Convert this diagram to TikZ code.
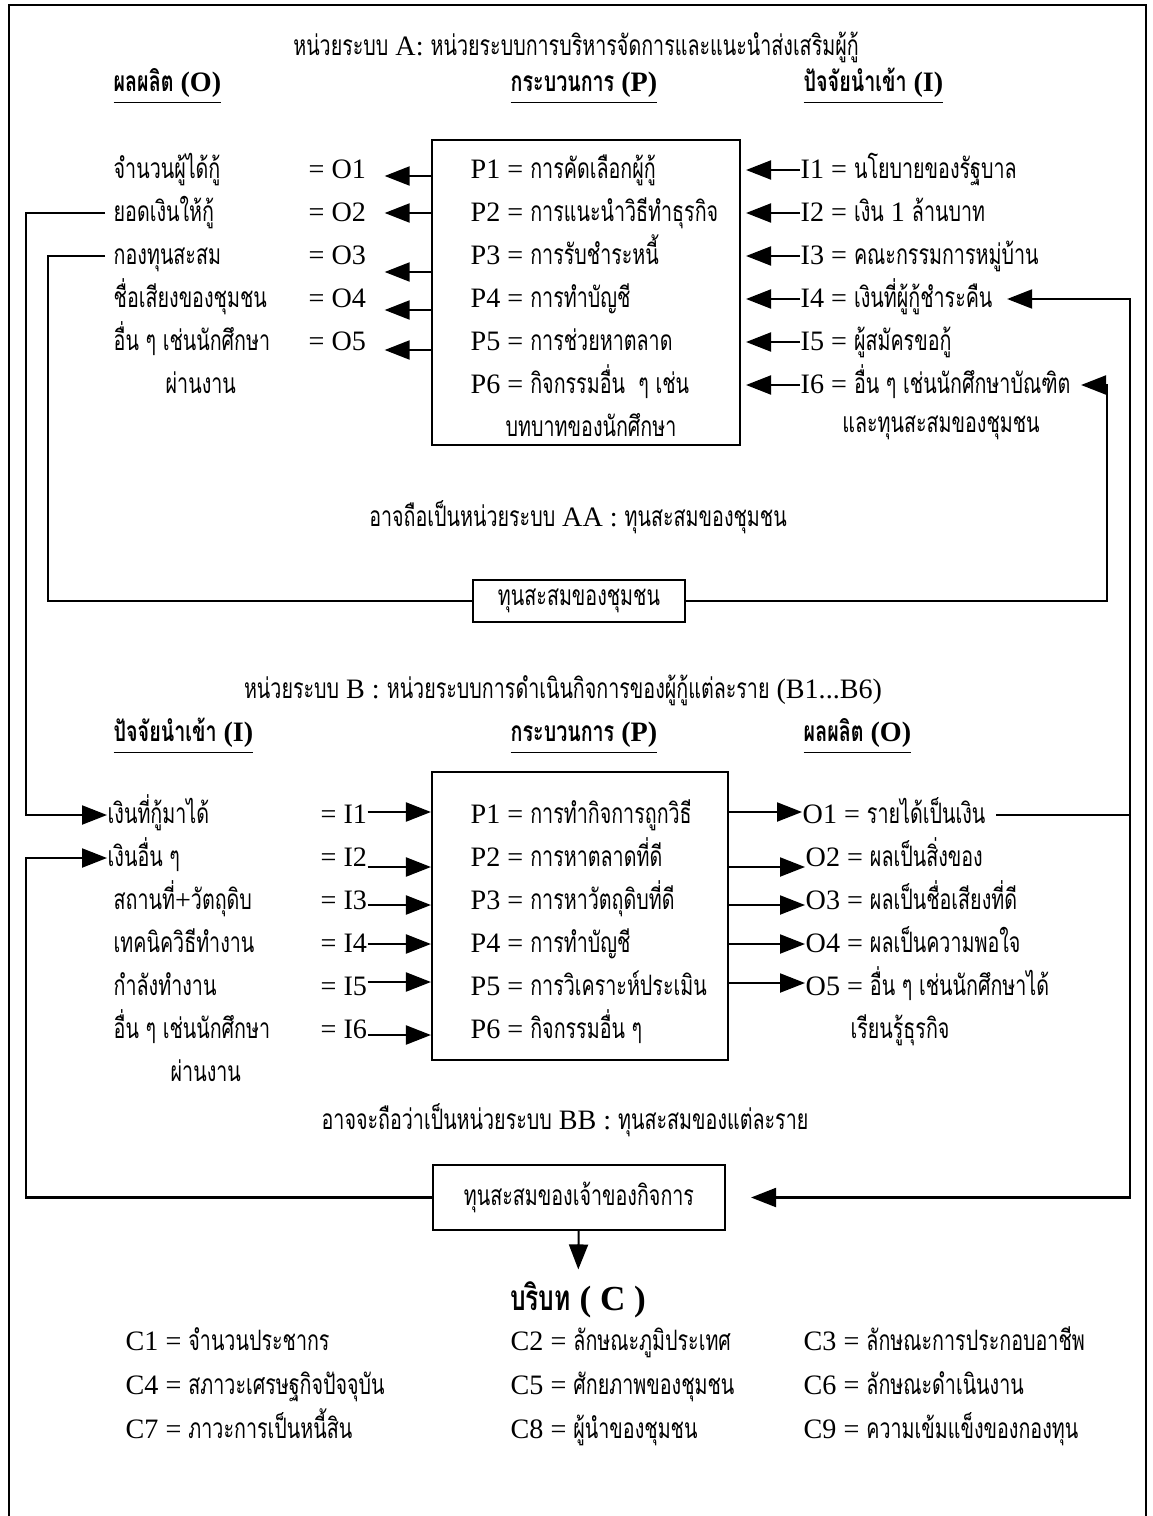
\documentclass[tikz,border=0pt]{standalone}
\usepackage{fontspec}
\setmainfont{Liberation Serif}
\newfontfamily\thaifont[Script=Thai,FakeStretch=0.7]{Loma}
\usetikzlibrary{positioning}
\usetikzlibrary{arrows.meta}

\newcommand{\tha}[1]{{\thaifont #1}}
\newcommand{\hd}[1]{\underline{\bfseries #1}}

\tikzset{
  every node/.style={font=\fontsize{8}{10}\selectfont},
  row/.style={anchor=west, inner sep=0pt, text height=1.6ex, text depth=0.5ex},
  pbox/.style={draw, semithick, inner sep=0pt},
  ln/.style={semithick},
  arr/.style={semithick, -{Triangle[length=0.25cm,width=0.19cm]}}
}

\begin{document}
\begin{tikzpicture}

\useasboundingbox (0,0) rectangle (11.52,-15.16);

% outer frame (open at the bottom)
\draw[thick] (0.09,-15.16) -- (0.09,-0.05) -- (11.46,-0.05) -- (11.46,-15.16);

% unit A
\node (ta) at (5.76,-0.47) {\tha{หน่วยระบบ} A: \tha{หน่วยระบบการบริหารจัดการและแนะนำส่งเสริมผู้กู้}};
\node[row] (hao) at (1.13,-0.83) {\hd{\tha{ผลผลิต} (O)}};
\node[row] (hap) at (5.10,-0.83) {\hd{\tha{กระบวนการ} (P)}};
\node[row] (hai) at (8.03,-0.83) {\hd{\tha{ปัจจัยนำเข้า} (I)}};

\node[pbox, minimum width=3.08cm, minimum height=3.05cm] (pa) at (5.86,-2.925) {};

% outputs of A
\node[row] (ao1) at (1.13,-1.70) {\tha{จำนวนผู้ได้กู้}};
\node[row] (ao2) at (1.13,-2.13) {\tha{ยอดเงินให้กู้}};
\node[row] (ao3) at (1.13,-2.56) {\tha{กองทุนสะสม}};
\node[row] (ao4) at (1.13,-2.99) {\tha{ชื่อเสียงของชุมชน}};
\node[row] (ao5) at (1.13,-3.42) {\tha{อื่น ๆ เช่นนักศึกษา}};
\node[row] (ao6) at (1.65,-3.85) {\tha{ผ่านงาน}};
\node[row] (aeq1) at (3.08,-1.70) {= O1};
\node[row] (aeq2) at (3.08,-2.13) {= O2};
\node[row] (aeq3) at (3.08,-2.56) {= O3};
\node[row] (aeq4) at (3.08,-2.99) {= O4};
\node[row] (aeq5) at (3.08,-3.42) {= O5};

% process of A
\node[row] (pa1) at (4.70,-1.70) {P1 = \tha{การคัดเลือกผู้กู้}};
\node[row] (pa2) at (4.70,-2.13) {P2 = \tha{การแนะนำวิธีทำธุรกิจ}};
\node[row] (pa3) at (4.70,-2.56) {P3 = \tha{การรับชำระหนี้}};
\node[row] (pa4) at (4.70,-2.99) {P4 = \tha{การทำบัญชี}};
\node[row] (pa5) at (4.70,-3.42) {P5 = \tha{การช่วยหาตลาด}};
\node[row] (pa6) at (4.70,-3.85) {P6 = \tha{กิจกรรมอื่น\ \ ๆ เช่น}};
\node[row] (pa7) at (5.05,-4.28) {\tha{บทบาทของนักศึกษา}};

% inputs of A
\node[row] (ai1) at (8.00,-1.70) {I1 = \tha{นโยบายของรัฐบาล}};
\node[row] (ai2) at (8.00,-2.13) {I2 = \tha{เงิน} 1 \tha{ล้านบาท}};
\node[row] (ai3) at (8.00,-2.56) {I3 = \tha{คณะกรรมการหมู่บ้าน}};
\node[row] (ai4) at (8.00,-2.99) {I4 = \tha{เงินที่ผู้กู้ชำระคืน}};
\node[row] (ai5) at (8.00,-3.42) {I5 = \tha{ผู้สมัครขอกู้}};
\node[row] (ai6) at (8.00,-3.85) {I6 = \tha{อื่น ๆ เช่นนักศึกษาบัณฑิต}};
\node (ai7) at (9.41,-4.28) {\tha{และทุนสะสมของชุมชน}};

% arrows of A
\draw[arr] ([yshift=-0.06cm]pa.west |- aeq1) -- ([xshift=0.18cm,yshift=-0.06cm]aeq1.east);
\draw[arr] (pa.west |- aeq2) -- ([xshift=0.18cm]aeq2.east);
\draw[arr] ([yshift=-0.16cm]pa.west |- aeq3) -- ([xshift=0.18cm,yshift=-0.16cm]aeq3.east);
\draw[arr] ([yshift=-0.11cm]pa.west |- aeq4) -- ([xshift=0.18cm,yshift=-0.11cm]aeq4.east);
\draw[arr] ([yshift=-0.08cm]pa.west |- aeq5) -- ([xshift=0.18cm,yshift=-0.08cm]aeq5.east);
\draw[arr] (ai1.west) -- ([xshift=0.05cm]pa.east |- ai1);
\draw[arr] (ai2.west) -- ([xshift=0.05cm]pa.east |- ai2);
\draw[arr] (ai3.west) -- ([xshift=0.05cm]pa.east |- ai3);
\draw[arr] (ai4.west) -- ([xshift=0.05cm]pa.east |- ai4);
\draw[arr] (ai5.west) -- ([xshift=0.05cm]pa.east |- ai5);
\draw[arr] (ai6.west) -- ([xshift=0.05cm]pa.east |- ai6);

\node (taa) at (5.78,-5.17) {\tha{อาจถือเป็นหน่วยระบบ} AA : \tha{ทุนสะสมของชุมชน}};
\node[pbox, minimum width=2.12cm, minimum height=0.42cm] (cap1) at (5.79,-6.01) {\tha{ทุนสะสมของชุมชน}};

% unit B
\node (tb) at (5.63,-6.90) {\tha{หน่วยระบบ} B : \tha{หน่วยระบบการดำเนินกิจการของผู้กู้แต่ละราย} (B1...B6)};
\node[row] (hbi) at (1.13,-7.33) {\hd{\tha{ปัจจัยนำเข้า} (I)}};
\node[row] (hbp) at (5.10,-7.33) {\hd{\tha{กระบวนการ} (P)}};
\node[row] (hbo) at (8.03,-7.33) {\hd{\tha{ผลผลิต} (O)}};

\node[pbox, minimum width=2.96cm, minimum height=2.88cm] (pb) at (5.80,-9.16) {};

% inputs of B
\node[row] (bi1) at (1.07,-8.15) {\tha{เงินที่กู้มาได้}};
\node[row] (bi2) at (1.07,-8.58) {\tha{เงินอื่น ๆ}};
\node[row] (bi3) at (1.13,-9.01) {\tha{สถานที่}+\tha{วัตถุดิบ}};
\node[row] (bi4) at (1.13,-9.44) {\tha{เทคนิควิธีทำงาน}};
\node[row] (bi5) at (1.13,-9.87) {\tha{กำลังทำงาน}};
\node[row] (bi6) at (1.13,-10.30) {\tha{อื่น ๆ เช่นนักศึกษา}};
\node[row] (bi7) at (1.70,-10.73) {\tha{ผ่านงาน}};
\node[row] (beq1) at (3.20,-8.15) {= I1};
\node[row] (beq2) at (3.20,-8.58) {= I2};
\node[row] (beq3) at (3.20,-9.01) {= I3};
\node[row] (beq4) at (3.20,-9.44) {= I4};
\node[row] (beq5) at (3.20,-9.87) {= I5};
\node[row] (beq6) at (3.20,-10.30) {= I6};

% process of B
\node[row] (pb1) at (4.70,-8.15) {P1 = \tha{การทำกิจการถูกวิธี}};
\node[row] (pb2) at (4.70,-8.58) {P2 = \tha{การหาตลาดที่ดี}};
\node[row] (pb3) at (4.70,-9.01) {P3 = \tha{การหาวัตถุดิบที่ดี}};
\node[row] (pb4) at (4.70,-9.44) {P4 = \tha{การทำบัญชี}};
\node[row] (pb5) at (4.70,-9.87) {P5 = \tha{การวิเคราะห์ประเมิน}};
\node[row] (pb6) at (4.70,-10.30) {P6 = \tha{กิจกรรมอื่น ๆ}};

% outputs of B
\node[row] (bo1) at (8.02,-8.15) {O1 = \tha{รายได้เป็นเงิน}};
\node[row] (bo2) at (8.05,-8.58) {O2 = \tha{ผลเป็นสิ่งของ}};
\node[row] (bo3) at (8.05,-9.01) {O3 = \tha{ผลเป็นชื่อเสียงที่ดี}};
\node[row] (bo4) at (8.05,-9.44) {O4 = \tha{ผลเป็นความพอใจ}};
\node[row] (bo5) at (8.05,-9.87) {O5 = \tha{อื่น ๆ เช่นนักศึกษาได้}};
\node (bo6) at (9.00,-10.30) {\tha{เรียนรู้ธุรกิจ}};

% arrows of B
\draw[arr] ([yshift=0.03cm]beq1.east) -- ([yshift=0.03cm]pb.west |- beq1);
\draw[arr] ([yshift=-0.09cm]beq2.east) -- ([yshift=-0.09cm]pb.west |- beq2);
\draw[arr] ([yshift=-0.04cm]beq3.east) -- ([yshift=-0.04cm]pb.west |- beq3);
\draw[arr] (beq4.east) -- (pb.west |- beq4);
\draw[arr] ([yshift=0.05cm]beq5.east) -- ([yshift=0.05cm]pb.west |- beq5);
\draw[arr] ([yshift=-0.05cm]beq6.east) -- ([yshift=-0.05cm]pb.west |- beq6);
\draw[arr] ([yshift=0.03cm]pb.east |- bo1) -- ([yshift=0.03cm]bo1.west);
\draw[arr] ([yshift=-0.09cm]pb.east |- bo2) -- ([yshift=-0.09cm]bo2.west);
\draw[arr] ([yshift=-0.04cm]pb.east |- bo3) -- ([yshift=-0.04cm]bo3.west);
\draw[arr] (pb.east |- bo4) -- (bo4.west);
\draw[arr] ([yshift=0.04cm]pb.east |- bo5) -- ([yshift=0.04cm]bo5.west);

\node (tbb) at (5.65,-11.20) {\tha{อาจจะถือว่าเป็นหน่วยระบบ} BB : \tha{ทุนสะสมของแต่ละราย}};
\node[pbox, minimum width=2.92cm, minimum height=0.65cm] (cap2) at (5.79,-11.975) {\tha{ทุนสะสมของเจ้าของกิจการ}};

% feedback loops
\coordinate (fa6) at (11.07,-3.85);
\coordinate (fb4) at (11.30,-2.99);
\draw[arr] ([xshift=-0.08cm]ao2.west) -- ++(-0.79,0) |- (bi1.west);
\draw[ln] ([xshift=-0.08cm]ao3.west) -- ++(-0.57,0) |- (cap1.west);
\draw[arr, shorten >=0.1cm] (cap1.east) -| (fa6) -- (ai6.east);
\draw[arr, shorten <=0.1cm, shorten >=0.14cm] (bo1.east) -| (fb4) -- (ai4.east);
\draw[arr, shorten >=0.25cm] (bo1.east -| fb4) |- (cap2.east);
\draw[arr] (cap2.west) -| ([xshift=-0.81cm]bi2.west) -- (bi2.west);

% context
\node[font=\fontsize{10}{12}\selectfont\bfseries] (ctx) at (5.78,-13.00) {\tha{บริบท} ( C )};
\draw[arr] (cap2) -- (ctx);

\node[row] (c1) at (1.25,-13.42) {C1 = \tha{จำนวนประชากร}};
\node[row] (c2) at (5.10,-13.42) {C2 = \tha{ลักษณะภูมิประเทศ}};
\node[row] (c3) at (8.03,-13.42) {C3 = \tha{ลักษณะการประกอบอาชีพ}};
\node[row] (c4) at (1.25,-13.86) {C4 = \tha{สภาวะเศรษฐกิจปัจจุบัน}};
\node[row] (c5) at (5.10,-13.86) {C5 = \tha{ศักยภาพของชุมชน}};
\node[row] (c6) at (8.03,-13.86) {C6 = \tha{ลักษณะดำเนินงาน}};
\node[row] (c7) at (1.25,-14.30) {C7 = \tha{ภาวะการเป็นหนี้สิน}};
\node[row] (c8) at (5.10,-14.30) {C8 = \tha{ผู้นำของชุมชน}};
\node[row] (c9) at (8.03,-14.30) {C9 = \tha{ความเข้มแข็งของกองทุน}};

\end{tikzpicture}
\end{document}
